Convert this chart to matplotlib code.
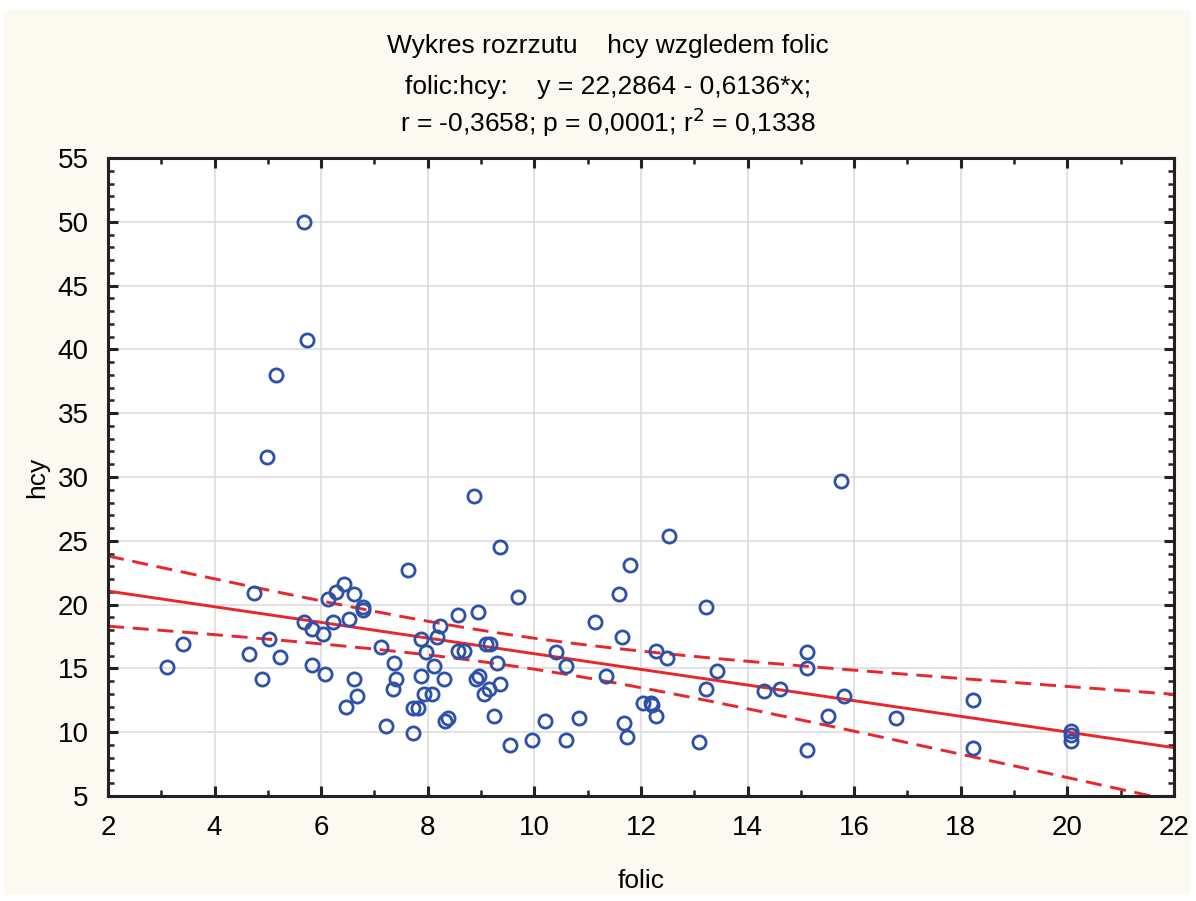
import numpy as np, matplotlib; matplotlib.use('Agg')
import matplotlib.pyplot as plt
from matplotlib.patches import Rectangle
from matplotlib.ticker import MultipleLocator

plt.rcParams.update({'font.family':['Liberation Sans','DejaVu Sans'],'font.size':19})

# data
folic=[3.10,3.40,4.65,4.73,4.89,4.99,5.03,5.15,5.23,5.68,5.74,5.68,5.83,5.83,6.03,6.08,6.13,6.23,6.28,6.43,
       6.47,6.53,6.62,6.62,6.67,6.78,6.79,7.12,7.22,7.37,7.40,7.35,7.62,7.72,7.82,7.72,7.87,7.87,7.92,7.97,
       8.07,8.11,8.17,8.22,8.31,8.32,8.37,8.56,8.56,8.67,8.87,8.90,8.96,8.95,9.05,9.10,9.17,9.15,9.25,9.30,
       9.36,9.36,9.55,9.70,9.95,10.19,10.40,10.60,10.60,10.84,11.14,11.34,11.59,11.64,11.69,11.73,11.79,12.04,12.19,12.21,
       12.28,12.28,12.48,12.53,13.08,13.22,13.22,13.42,14.31,14.61,15.11,15.11,15.11,15.51,15.75,15.80,16.79,18.23,18.23,20.06,
       20.06,20.06]
hcy=[15.1,16.9,16.1,20.9,14.2,31.6,17.3,38.0,15.9,50.0,40.7,18.6,18.1,15.3,17.7,14.6,20.4,18.6,21.0,21.6,
     12.0,18.9,20.8,14.2,12.8,19.8,19.6,16.7,10.5,15.4,14.2,13.4,22.7,11.9,11.9,9.9,17.3,14.4,13.0,16.3,
     13.0,15.2,17.5,18.3,14.2,10.9,11.1,19.2,16.4,16.4,28.5,14.2,14.4,19.4,13.0,16.9,16.9,13.4,11.3,15.4,
     13.8,24.5,9.0,20.6,9.4,10.9,16.3,15.2,9.4,11.1,18.6,14.4,20.8,17.5,10.7,9.6,23.1,12.3,12.3,12.1,
     11.3,16.4,15.8,25.4,9.2,19.8,13.4,14.8,13.2,13.4,16.3,15.0,8.6,11.3,29.7,12.8,11.1,12.5,8.8,10.1,
     9.8,9.3]
intercept,slope=22.2864,-0.6136
title_lines=['Wykres rozrzutu    hcy wzgledem folic','folic:hcy:    y = 22,2864 - 0,6136*x;',
             'r = -0,3658; p = 0,0001; r$^2$ = 0,1338']

x=np.array(folic); y=np.array(hcy); n=len(x)
xs=np.linspace(2,22,200); yl=intercept+slope*xs
s=np.sqrt(np.sum((y-(intercept+slope*x))**2)/(n-2)); sxx=np.sum((x-x.mean())**2)
hw=1.984*s*np.sqrt(1/n+(xs-x.mean())**2/sxx)

BG='#FCF9F0'; RED='#E8262B'; BLUE='#2D50A8'
fig=plt.figure(figsize=(11.96,9.01),dpi=100,facecolor='white')
fig.patches.append(Rectangle((4/1196,6/901),1186/1196,885/901,transform=fig.transFigure,facecolor=BG,edgecolor='none',zorder=-10))
ax=fig.add_axes([108/1196,1-796/901,1066/1196,638/901])
ax.set_facecolor('white')
ax.plot(x,y,'o',mfc='none',mec=BLUE,ms=9.5,mew=2.0,zorder=3)
ax.plot(xs,yl,color=RED,lw=2.1,zorder=2)
ax.plot(xs,yl+hw,color=RED,lw=2.1,ls=(0,(5.5,3)),zorder=2)
ax.plot(xs,yl-hw,color=RED,lw=2.1,ls=(0,(5.5,3)),zorder=2)
ax.set_xlim(2,22); ax.set_ylim(5,55)
ax.xaxis.set_major_locator(MultipleLocator(2)); ax.xaxis.set_minor_locator(MultipleLocator(1))
ax.yaxis.set_major_locator(MultipleLocator(5)); ax.yaxis.set_minor_locator(MultipleLocator(1))
ax.grid(True,which='major',color='#DADADA',lw=1.1,zorder=0); ax.set_axisbelow(True)
ax.tick_params(which='both',direction='in',top=True,right=True,color='#222222')
ax.tick_params(which='major',length=7,width=2.2,labelsize=20,pad=14)
ax.tick_params(which='minor',length=4,width=1.8)
for sp in ax.spines.values(): sp.set_linewidth(2.2); sp.set_color('#222222')
ax.set_xlabel('folic',fontsize=19,labelpad=20); ax.set_ylabel('hcy',fontsize=19,labelpad=6)
for t,yy in zip(title_lines,[46,87,122]):
    fig.text(608/1196,1-yy/901,t,ha='center',va='center',fontsize=19)
fig.savefig('out.png',dpi=100,facecolor='white')
